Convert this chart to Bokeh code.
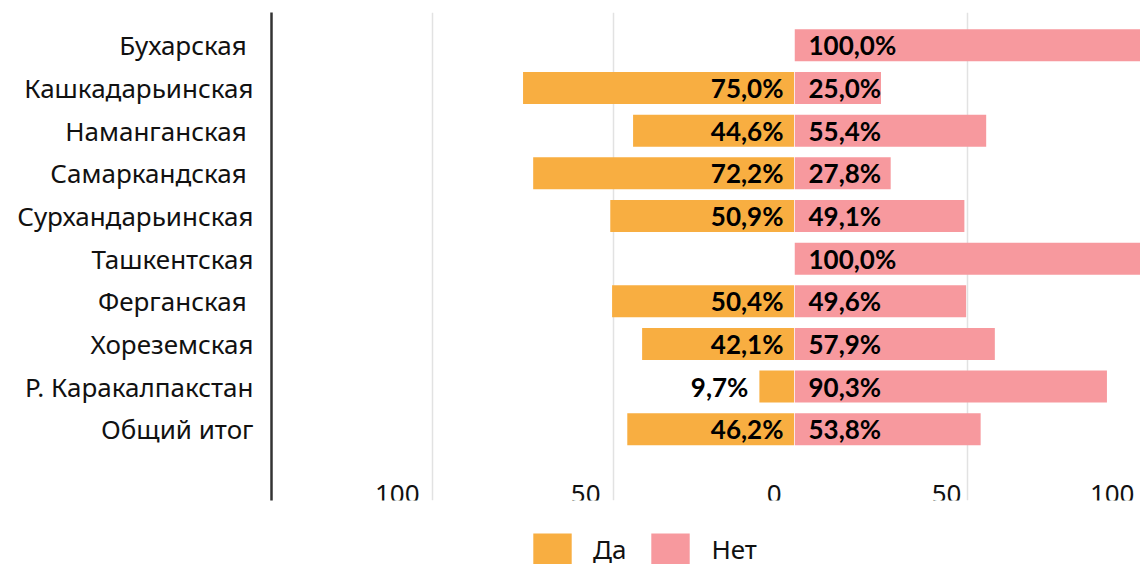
from bokeh.plotting import figure
from bokeh.models import Range1d, FixedTicker, Legend, LegendItem, Grid, LabelSet, ColumnDataSource
from bokeh.layouts import row, column
from bokeh.embed import file_html
from bokeh.resources import INLINE
from bokeh.core.properties import value

# ---- data ----
categories = ["Бухарская\u00a0", "Кашкадарьинская", "Наманганская\u00a0", "Самаркандская\u00a0",
              "Сурхандарьинская", "Ташкентская", "Ферганская\u00a0", "Хореземская",
              "Р. Каракалпакстан", "Общий итог"]
yes_pct = [0.0, 75.0, 44.6, 72.2, 50.9, 0.0, 50.4, 42.1, 9.7, 46.2]
no_pct = [100.0, 25.0, 55.4, 27.8, 49.1, 100.0, 49.6, 57.9, 90.3, 53.8]
series_names = ["Да", "Нет"]
left_ticks = [-100, -50, 0]
left_tick_labels = ["100", "50", "0"]
right_ticks = [50, 100]
right_tick_labels = ["50", "100"]

# ---- style ----
FONT = "Lato"
CAT_FONT = "Noto Sans"
YES_COLOR = "#F8AE41"
NO_COLOR = "#F7999E"
GRID_COLOR = "#E2E2E2"
TXT = "#111111"
BAR_H = 0.75

idx = list(range(len(categories)))
yr = Range1d(10.67, -0.77)

def fmt(v):
    return f"{v:.1f}%".replace(".", ",")

# ---- left (Да) ----
left = figure(frame_width=523, frame_height=488, x_range=Range1d(-144.5, 0), y_range=yr,
              x_axis_location=None, output_backend="svg", toolbar_location=None,
              min_border_left=271, min_border_right=0, min_border_top=12, min_border_bottom=12)
left.outline_line_color = None
left.xgrid.visible = False
left.ygrid.visible = False
left.add_layout(Grid(dimension=0, ticker=FixedTicker(ticks=left_ticks),
                     grid_line_color=GRID_COLOR, grid_line_width=1.5))

left.hbar(y=idx, left=[-v for v in yes_pct], right=0, height=BAR_H,
          fill_color=YES_COLOR, line_color=None)

ya = left.yaxis[0]
ya.ticker = FixedTicker(ticks=idx)
ya.major_label_overrides = {i: c for i, c in zip(idx, categories)}
ya.axis_line_width = 2.5
ya.axis_line_color = "#333333"
ya.major_tick_line_color = None
ya.minor_tick_line_color = None
ya.major_label_standoff = 12
ya.major_label_text_font = CAT_FONT
ya.major_label_text_font_size = "26px"
ya.major_label_text_color = TXT

# value labels for Да
ylab_idx = [i for i, v in zip(idx, yes_pct) if v > 0]
ylab_txt = [fmt(v) for v in yes_pct if v > 0]
ylab_x = [(0 if v >= 20 else -v) for v in yes_pct if v > 0]
left.text(x=ylab_x, y=ylab_idx, text=ylab_txt, text_align="right", text_baseline="middle",
          x_offset=-11, text_font=value(FONT), text_font_style="bold",
          text_font_size="26px", text_color="#000000")

# tick labels (annotations, not clipped)
lsrc = ColumnDataSource(dict(x=left_ticks, y=[yr.start] * len(left_ticks), t=left_tick_labels))
left.add_layout(LabelSet(x="x", y="y", text="t", source=lsrc, text_align="right",
                         text_baseline="alphabetic", x_offset=-13, y_offset=-2,
                         text_font=value(CAT_FONT), text_font_size="26px", text_color=TXT))

# ---- right (Нет) ----
right = figure(frame_width=346, frame_height=488, x_range=Range1d(0, 100), y_range=yr,
               x_axis_location=None, y_axis_location=None, output_backend="svg",
               toolbar_location=None, min_border_left=0, min_border_right=0,
               min_border_top=12, min_border_bottom=12)
right.outline_line_color = None
right.xgrid.visible = False
right.ygrid.visible = False
right.add_layout(Grid(dimension=0, ticker=FixedTicker(ticks=right_ticks),
                      grid_line_color=GRID_COLOR, grid_line_width=1.5))
right.hbar(y=idx, left=0, right=no_pct, height=BAR_H, fill_color=NO_COLOR, line_color=None)
right.text(x=[0] * len(idx), y=idx, text=[fmt(v) for v in no_pct], text_align="left",
           text_baseline="middle", x_offset=14, text_font=value(FONT), text_font_style="bold",
           text_font_size="26px", text_color="#000000")
rsrc = ColumnDataSource(dict(x=right_ticks, y=[yr.start] * len(right_ticks), t=right_tick_labels))
right.add_layout(LabelSet(x="x", y="y", text="t", source=rsrc, text_align="right",
                          text_baseline="alphabetic", x_offset=-6, y_offset=-2,
                          text_font=value(CAT_FONT), text_font_size="26px", text_color=TXT))

# ---- legend strip (series drawn outside its view; only the legend shows) ----
leg = figure(width=1140, height=52, x_range=Range1d(1000, 1001), y_range=Range1d(1000, 1001),
             x_axis_location=None, y_axis_location=None, output_backend="svg",
             toolbar_location=None, min_border=0)
leg.outline_line_color = None
leg.xgrid.visible = False
leg.ygrid.visible = False
r_yes = leg.hbar(y=idx, left=[-v for v in yes_pct], right=0, height=BAR_H,
                 fill_color=YES_COLOR, line_color=None)
r_no = leg.hbar(y=idx, left=0, right=no_pct, height=BAR_H, fill_color=NO_COLOR, line_color=None)
legend = Legend(items=[LegendItem(label=series_names[0], renderers=[r_yes]),
                       LegendItem(label=series_names[1], renderers=[r_no])],
                orientation="horizontal", glyph_width=48, glyph_height=39,
                label_standoff=17, spacing=20, padding=0, margin=0,
                border_line_color=None, background_fill_alpha=0,
                label_text_font=CAT_FONT, label_text_font_size="26px", label_text_color=TXT,
                label_height=39, location=(528, -4))
leg.add_layout(legend, "center")

layout = column(row(left, right, spacing=0), leg, spacing=0)
open("out.html", "w").write(file_html(layout, INLINE))
